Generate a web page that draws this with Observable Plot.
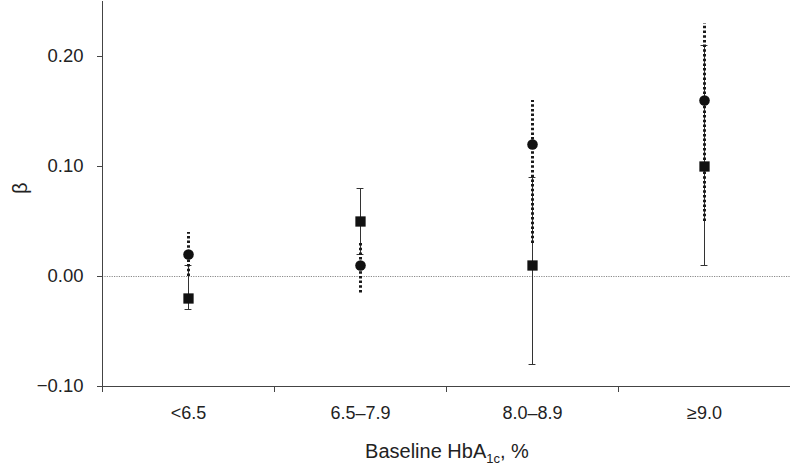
<!DOCTYPE html>
<html>
<head>
<meta charset="utf-8">
<script src="https://cdn.jsdelivr.net/npm/d3@7"></script>
<script src="https://cdn.jsdelivr.net/npm/@observablehq/plot@0.6"></script>
<style>
  html, body { margin: 0; padding: 0; background: white; }
  svg { display: block; }
</style>
</head>
<body>
<div id="chart"></div>
<script>
const categories = ["<6.5", "6.5–7.9", "8.0–8.9", "≥9.0"];
// Series shown with circles and dotted confidence intervals
const circleEst = [0.02, 0.01, 0.12, 0.16];
const circleLo  = [0.00, -0.015, 0.03, 0.05];
const circleHi  = [0.04, 0.03, 0.16, 0.23];
// Series shown with squares and solid confidence intervals
const squareEst = [-0.02, 0.05, 0.01, 0.10];
const squareLo  = [-0.03, 0.02, -0.08, 0.01];
const squareHi  = [0.01, 0.08, 0.09, 0.21];
const yTicks = [-0.10, 0.00, 0.10, 0.20];

const circles = categories.map((c, i) => ({x: i + 0.5, est: circleEst[i], lo: circleLo[i], hi: circleHi[i]}));
const squares = categories.map((c, i) => ({x: i + 0.5, est: squareEst[i], lo: squareLo[i], hi: squareHi[i]}));
const capHalf = 0.02;

const axisColor = "#444";
const plot = Plot.plot({
  width: 790,
  height: 468,
  marginLeft: 102,
  marginRight: 0,
  marginTop: 1,
  marginBottom: 82,
  style: {fontFamily: "'Liberation Sans', Arial, sans-serif", fontSize: "18px", color: "#222", background: "white"},
  x: {domain: [0, 4], axis: null},
  y: {domain: [-0.10, 0.25], axis: null},
  marks: [
    Plot.ruleY([0], {stroke: "#8a8a8a", strokeWidth: 1, strokeDasharray: "1.2,1.2"}),
    Plot.axisY({ticks: yTicks, tickFormat: d3.format(".2f"), tickSize: 5, tickPadding: 14, label: null, stroke: axisColor, fontSize: 18.5}),
    Plot.axisX({ticks: [0, 1, 2, 3, 4], tickFormat: () => "", tickSize: 6, label: null, stroke: axisColor}),
    Plot.axisX({ticks: [0.5, 1.5, 2.5, 3.5], tickFormat: d => categories[Math.round(d - 0.5)], tickSize: 0, tickPadding: 20, label: null, fontSize: 18}),
    Plot.ruleX([0], {y1: -0.10, y2: 0.25, stroke: axisColor}),
    Plot.ruleY([-0.10], {stroke: axisColor}),
    // solid CIs (square series)
    Plot.ruleX(squares, {x: "x", y1: "lo", y2: "hi", stroke: "#333", strokeWidth: 1}),
    Plot.ruleY(squares, {y: "lo", x1: d => d.x - capHalf, x2: d => d.x + capHalf, stroke: "#333", strokeWidth: 1}),
    Plot.ruleY(squares, {y: "hi", x1: d => d.x - capHalf, x2: d => d.x + capHalf, stroke: "#333", strokeWidth: 1}),
    // dotted CIs (circle series)
    Plot.ruleX(circles, {x: "x", y1: "lo", y2: "hi", stroke: "#1a1a1a", strokeWidth: 3, strokeDasharray: "2.5,2.2"}),
    Plot.dot(squares, {x: "x", y: "est", symbol: "square", r: 5.8, fill: "#111", stroke: "none"}),
    Plot.dot(circles, {x: "x", y: "est", symbol: "circle", r: 5.3, fill: "#111", stroke: "none"}),
    Plot.text(["β"], {frameAnchor: "left", dx: -82, rotate: -90, fontSize: 20, fill: "#222"})
  ]
});

const svg = d3.select(plot);
const lab = svg.append("text")
  .attr("x", 447).attr("y", 458)
  .attr("text-anchor", "middle")
  .attr("font-size", 20)
  .attr("fill", "#222");
lab.append("tspan").text("Baseline HbA");
lab.append("tspan").attr("font-size", 13).attr("dy", 5).text("1c");
lab.append("tspan").attr("dy", -5).text(", %");

document.getElementById("chart").appendChild(plot);
</script>
</body>
</html>
